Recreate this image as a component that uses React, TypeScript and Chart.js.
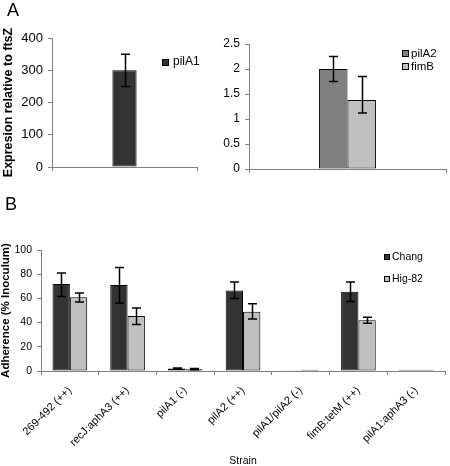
import React, { useEffect, useRef } from 'react';
import { Chart, registerables } from 'chart.js';

Chart.register(...registerables);

const FONT = "'Liberation Sans', Arial, Helvetica, sans-serif";

// ---------- Panel A (left) ----------
const categoriesA1 = ['pilA1'];
const pilA1Values = [300];
const pilA1Low = [250];
const pilA1High = [350];
const ticksA1 = [0, 100, 200, 300, 400];

// ---------- Panel A (right) ----------
const categoriesA2 = ['pilA2 / fimB'];
const pilA2Values = [2.0];
const pilA2Low = [1.75];
const pilA2High = [2.25];
const fimBValues = [1.38];
const fimBLow = [1.12];
const fimBHigh = [1.85];
const ticksA2 = [0, 0.5, 1, 1.5, 2, 2.5];

// ---------- Panel B ----------
const strains = [
  '269-492 (++)',
  'recJ:aphA3 (++)',
  'pilA1 (-)',
  'pilA2 (++)',
  'pilA1/pilA2 (-)',
  'fimB:tetM (++)',
  'pilA1:aphA3 (-)',
];
const changValues = [72, 71, 2, 66.5, 0.3, 65.5, 1];
const changLow = [61.5, 56, 1.5, 60, 0.3, 57.5, 1];
const changHigh = [81, 85.5, 2.5, 73.5, 0.3, 73.5, 1];
const hig82Values = [61, 45.5, 1.5, 49, 1, 42, 1];
const hig82Low = [57, 38.5, 1, 43, 1, 39.5, 1];
const hig82High = [64.5, 52, 2, 55.5, 1, 44.5, 1];
const ticksB = [0, 20, 40, 60, 80, 100];

const AXIS_GRAY = '#808080';

const errorBarPlugin = {
  id: 'errorBars',
  afterDatasetsDraw(chart: any, _args: any, opts: any) {
    const ctx = chart.ctx;
    const y = chart.scales.y;
    const cap = opts.cap ?? 4.5;
    chart.data.datasets.forEach((ds: any, di: number) => {
      if (!ds.errLow) return;
      const meta = chart.getDatasetMeta(di);
      meta.data.forEach((bar: any, i: number) => {
        const lo = ds.errLow[i];
        const hi = ds.errHigh[i];
        if (hi - lo <= 1e-6) return;
        const x = Math.round(bar.x) + 0.5;
        const yl = y.getPixelForValue(lo);
        const yh = y.getPixelForValue(hi);
        ctx.save();
        ctx.strokeStyle = '#000';
        ctx.lineWidth = opts.width ?? 1.5;
        ctx.beginPath();
        ctx.moveTo(x, yl);
        ctx.lineTo(x, yh);
        ctx.moveTo(x - cap, yl);
        ctx.lineTo(x + cap, yl);
        ctx.moveTo(x - cap, yh);
        ctx.lineTo(x + cap, yh);
        ctx.stroke();
        ctx.restore();
      });
    });
  },
};

const boxLegendPlugin = {
  id: 'boxLegend',
  afterDraw(chart: any, _args: any, opts: any) {
    const ctx = chart.ctx;
    const { x, y, gap, box, textX, fontSize } = opts;
    chart.data.datasets.forEach((ds: any, i: number) => {
      const cy = y + i * gap;
      ctx.save();
      ctx.fillStyle = ds.backgroundColor;
      ctx.fillRect(x, Math.round(cy - box / 2), box, box);
      ctx.strokeStyle = '#000';
      ctx.lineWidth = 1;
      ctx.strokeRect(x + 0.5, Math.round(cy - box / 2) + 0.5, box - 1, box - 1);
      ctx.fillStyle = '#000';
      ctx.font = `${fontSize}px ${FONT}`;
      ctx.textBaseline = 'middle';
      ctx.textAlign = 'left';
      ctx.fillText(ds.label, textX, cy);
      ctx.restore();
    });
  },
};

function yScale(opts: {
  max: number;
  ticks: number[];
  width: number;
  fontSize: number;
  title?: string;
  titleSize?: number;
  titleLineHeight?: number;
  titlePad?: number;
}) {
  const step = opts.ticks[1] - opts.ticks[0];
  return {
    min: opts.ticks[0],
    max: opts.max,
    afterBuildTicks: (scale: any) => {
      scale.ticks = opts.ticks.map((v) => ({ value: v }));
    },
    ticks: {
      stepSize: step,
      color: '#000',
      padding: 5,
      font: { family: FONT, size: opts.fontSize },
      callback: (v: any) => String(v),
    },
    grid: {
      display: true,
      drawOnChartArea: false,
      drawTicks: true,
      tickLength: 4,
      color: AXIS_GRAY,
      lineWidth: 1,
    },
    border: { display: true, color: AXIS_GRAY, width: 1 },
    title: {
      display: !!opts.title,
      text: opts.title ?? '',
      color: '#000',
      font: {
        family: FONT,
        size: opts.titleSize ?? 11,
        weight: 'bold',
        lineHeight: opts.titleLineHeight ?? 1.2,
      },
      padding: { top: opts.titlePad ?? 0, bottom: 0 },
    },
    afterFit: (s: any) => {
      s.width = opts.width;
    },
  };
}

function xScaleHidden(height: number) {
  return {
    ticks: { display: false },
    grid: {
      display: true,
      drawOnChartArea: false,
      drawTicks: true,
      tickLength: 4,
      color: AXIS_GRAY,
      offset: true,
    },
    border: { display: true, color: AXIS_GRAY, width: 1 },
    afterFit: (s: any) => {
      s.height = height;
    },
  };
}

function useChart(build: () => any) {
  const ref = useRef<HTMLCanvasElement | null>(null);
  useEffect(() => {
    if (!ref.current) return;
    const chart = new Chart(ref.current, build());
    return () => chart.destroy();
  }, []);
  return ref;
}

function ChartA1() {
  const ref = useChart(() => ({
    type: 'bar',
    data: {
      labels: categoriesA1,
      datasets: [
        {
          label: 'pilA1',
          data: pilA1Values,
          errLow: pilA1Low,
          errHigh: pilA1High,
          backgroundColor: '#333333',
          borderColor: '#000',
          borderWidth: 1,
          borderSkipped: false,
          barPercentage: 1,
          categoryPercentage: 0.167,
        },
      ],
    },
    options: {
      responsive: false,
      animation: false,
      layout: { padding: { left: 0, right: 18, top: 38, bottom: 0 } },
      scales: {
        x: xScaleHidden(23),
        y: yScale({
          max: 400,
          ticks: ticksA1,
          width: 52,
          fontSize: 13,
          title: 'Expresion relative to ftsZ',
          titleSize: 12.5,
          titleLineHeight: 1.1,
          titlePad: 2,
        }),
      },
      plugins: {
        legend: { display: false },
        tooltip: { enabled: false },
        errorBars: { cap: 4.5, width: 1.5 },
        boxLegend: { x: 162, y: 62, gap: 0, box: 7, textX: 173, fontSize: 12 },
      },
    },
    plugins: [errorBarPlugin, boxLegendPlugin],
  }));
  return <canvas ref={ref} width={215} height={190} />;
}

function ChartA2() {
  const ref = useChart(() => ({
    type: 'bar',
    data: {
      labels: categoriesA2,
      datasets: [
        {
          label: 'pilA2',
          data: pilA2Values,
          errLow: pilA2Low,
          errHigh: pilA2High,
          backgroundColor: '#808080',
          borderColor: '#000',
          borderWidth: 1,
          borderSkipped: false,
          barPercentage: 1,
          categoryPercentage: 0.29,
        },
        {
          label: 'fimB',
          data: fimBValues,
          errLow: fimBLow,
          errHigh: fimBHigh,
          backgroundColor: '#c0c0c0',
          borderColor: '#000',
          borderWidth: 1,
          borderSkipped: false,
          barPercentage: 1,
          categoryPercentage: 0.29,
        },
      ],
    },
    options: {
      responsive: false,
      animation: false,
      layout: { padding: { left: 0, right: 4, top: 44, bottom: 0 } },
      scales: {
        x: xScaleHidden(21),
        y: yScale({ max: 2.5, ticks: ticksA2, width: 34, fontSize: 12 }),
      },
      plugins: {
        legend: { display: false },
        tooltip: { enabled: false },
        errorBars: { cap: 4.5, width: 1.5 },
        boxLegend: { x: 187, y: 53.5, gap: 13, box: 7, textX: 196, fontSize: 11.5 },
      },
    },
    plugins: [errorBarPlugin, boxLegendPlugin],
  }));
  return <canvas ref={ref} width={235} height={190} />;
}

function ChartB() {
  const ref = useChart(() => ({
    type: 'bar',
    data: {
      labels: strains,
      datasets: [
        {
          label: 'Chang',
          data: changValues,
          errLow: changLow,
          errHigh: changHigh,
          backgroundColor: '#333333',
          borderColor: '#000',
          borderWidth: 1,
          borderSkipped: false,
          barPercentage: 1,
          categoryPercentage: 0.6,
        },
        {
          label: 'Hig-82',
          data: hig82Values,
          errLow: hig82Low,
          errHigh: hig82High,
          backgroundColor: '#c0c0c0',
          borderColor: '#000',
          borderWidth: 1,
          borderSkipped: false,
          barPercentage: 1,
          categoryPercentage: 0.6,
        },
      ],
    },
    options: {
      responsive: false,
      animation: false,
      layout: { padding: { left: 0, right: 5, top: 60, bottom: 0 } },
      scales: {
        x: {
          ticks: {
            display: true,
            autoSkip: false,
            minRotation: 45,
            maxRotation: 45,
            color: '#000',
            padding: 9,
            font: { family: FONT, size: 11 },
          },
          grid: {
            display: true,
            drawOnChartArea: false,
            drawTicks: true,
            tickLength: 4,
            color: AXIS_GRAY,
            offset: true,
          },
          border: { display: true, color: AXIS_GRAY, width: 1 },
          title: {
            display: true,
            text: 'Strain',
            color: '#000',
            font: { family: FONT, size: 10.5, lineHeight: 1 },
            padding: { top: 0, bottom: 0 },
          },
          afterFit: (s: any) => {
            s.height = 95;
          },
        },
        y: yScale({
          max: 100,
          ticks: ticksB,
          width: 41,
          fontSize: 10.5,
          title: 'Adherence (% Inoculum)',
          titleSize: 11.5,
          titleLineHeight: 1,
          titlePad: 0,
        }),
      },
      plugins: {
        legend: { display: false },
        tooltip: { enabled: false },
        errorBars: { cap: 4.5, width: 1.5 },
        boxLegend: { x: 384, y: 67, gap: 22, box: 6, textX: 392, fontSize: 10.5 },
      },
    },
    plugins: [errorBarPlugin, boxLegendPlugin],
  }));
  return <canvas ref={ref} width={450} height={276} />;
}

export default function App() {
  const letter: React.CSSProperties = {
    position: 'absolute',
    fontFamily: FONT,
    fontSize: 18,
    lineHeight: '18px',
    color: '#000',
  };
  return (
    <div
      style={{
        position: 'fixed',
        left: 0,
        top: 0,
        width: 450,
        height: 466,
        overflow: 'hidden',
        background: '#fff',
      }}
    >
      <div style={{ position: 'absolute', left: 0, top: 0, width: 215, height: 190 }}>
        <ChartA1 />
      </div>
      <div style={{ position: 'absolute', left: 215, top: 0, width: 235, height: 190 }}>
        <ChartA2 />
      </div>
      <div style={{ position: 'absolute', left: 0, top: 190, width: 450, height: 276 }}>
        <ChartB />
      </div>
      <div style={{ ...letter, left: 7, top: 1 }}>A</div>
      <div style={{ ...letter, left: 5, top: 195 }}>B</div>
    </div>
  );
}
